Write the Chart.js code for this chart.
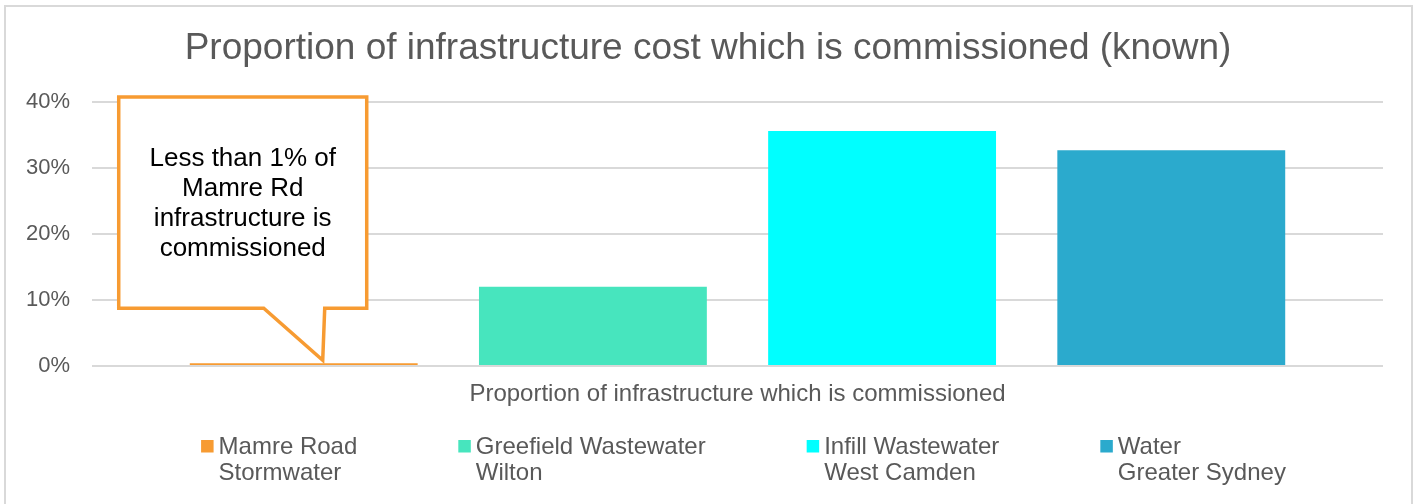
<!DOCTYPE html>
<html>
<head>
<meta charset="utf-8">
<script src="https://cdn.jsdelivr.net/npm/chart.js@4"></script>
<style>
  html, body { margin: 0; padding: 0; background: #fff; overflow: hidden; }
  #wrap { position: relative; width: 1416px; height: 504px; }
  #frame { position: absolute; left: 4px; top: 5px; width: 1409px; height: 600px; box-sizing: border-box; border: 2px solid #d9d9d9; pointer-events: none; }
  canvas { display: block; }
</style>
</head>
<body>
<div id="wrap">
  <canvas id="chart" width="1416" height="504"></canvas>
  <div id="frame"></div>
</div>
<script>
let titleText = "Proportion of infrastructure cost which is commissioned (known)";
let categories = ["Proportion of infrastructure which is commissioned"];
let seriesNames = [
  ["Mamre Road", "Stormwater"],
  ["Greefield Wastewater", "Wilton"],
  ["Infill Wastewater", "West Camden"],
  ["Water", "Greater Sydney"]
];
let seriesValues = [0.4, 12.0, 35.6, 32.7];
let seriesColors = ["#f79b32", "#47e5be", "#00ffff", "#2baacd"];
let yMax = 40;
let yStep = 10;
let calloutLines = ["Less than 1% of", "Mamre Rd", "infrastructure is", "commissioned"];

let fontFamily = "'Liberation Sans', Arial, sans-serif";
let grey = "#595959";

// Title drawn centred on the whole canvas
let titlePlugin = {
  id: "pageTitle",
  afterDraw(chart) {
    let c = chart.ctx;
    c.save();
    c.font = "37px " + fontFamily;
    c.fillStyle = grey;
    c.textAlign = "center";
    c.textBaseline = "alphabetic";
    c.fillText(titleText, chart.width / 2, 59);
    c.restore();
  }
};

// Callout box pointing at the first bar
let calloutPlugin = {
  id: "callout",
  afterDatasetsDraw(chart) {
    let bar = chart.getDatasetMeta(0).data[0];
    let y = chart.scales.y;
    let c = chart.ctx;
    let tipX = bar.x + 19;
    let tipY = bar.y - 3;
    let left = bar.x - 185;
    let right = bar.x + 63;
    let top = y.getPixelForValue(yMax) - 5;
    let bottom = y.getPixelForValue(8.75);

    c.save();
    c.beginPath();
    c.moveTo(left, top);
    c.lineTo(right, top);
    c.lineTo(right, bottom);
    c.lineTo(bar.x + 21, bottom);
    c.lineTo(tipX, tipY);
    c.lineTo(bar.x - 40, bottom);
    c.lineTo(left, bottom);
    c.closePath();
    c.fillStyle = "#fff";
    c.fill();
    c.lineWidth = 3.5;
    c.lineJoin = "miter";
    c.strokeStyle = seriesColors[0];
    c.stroke();

    c.fillStyle = "#000";
    c.font = "26px " + fontFamily;
    c.textAlign = "center";
    c.textBaseline = "alphabetic";
    let cx = (left + right) / 2;
    for (let i = 0; i < calloutLines.length; i++) {
      c.fillText(calloutLines[i], cx, top + 69 + i * 30);
    }
    c.restore();
  }
};

// Legend with two-line labels
let legendPlugin = {
  id: "twoLineLegend",
  afterDraw(chart) {
    let c = chart.ctx;
    c.save();
    c.font = "24px " + fontFamily;
    c.textBaseline = "alphabetic";
    c.textAlign = "left";
    let box = 12.5;
    let gap = 101;
    let widths = chart.data.datasets.map(ds => {
      let w = Math.max(...ds.label.map(t => c.measureText(t).width));
      return box + 5 + w;
    });
    let total = widths.reduce((a, b) => a + b, 0) + gap * (widths.length - 1);
    let x = (chart.chartArea.left + chart.chartArea.right) / 2 + 6 - total / 2;
    let base = 454;
    chart.data.datasets.forEach((ds, i) => {
      c.fillStyle = ds.backgroundColor;
      c.fillRect(x, 440, box, box);
      c.fillStyle = grey;
      ds.label.forEach((t, j) => c.fillText(t, x + box + 5, base + j * 26));
      x += widths[i] + gap;
    });
    c.restore();
  }
};

let ctx = document.getElementById("chart").getContext("2d");
let chart = new Chart(ctx, {
  type: "bar",
  data: {
    labels: categories,
    datasets: seriesNames.map((name, i) => ({
      label: name,
      data: [seriesValues[i]],
      backgroundColor: seriesColors[i],
      borderWidth: 0,
      categoryPercentage: 0.896,
      barPercentage: 0.788
    }))
  },
  options: {
    responsive: false,
    animation: false,
    layout: { padding: { left: 8, right: 33, top: 102, bottom: 0 } },
    plugins: {
      legend: { display: false },
      tooltip: { enabled: false },
      title: { display: false }
    },
    scales: {
      x: {
        grid: { display: false, drawTicks: false },
        border: { display: false },
        ticks: { color: grey, font: { family: fontFamily, size: 24 }, padding: 14 },
        afterFit(s) { s.height = 138; }
      },
      y: {
        min: 0,
        max: yMax,
        grid: { color: "#d9d9d9", lineWidth: 2, drawTicks: false },
        border: { display: false },
        ticks: {
          stepSize: yStep,
          color: grey,
          font: { family: fontFamily, size: 22 },
          padding: 22,
          callback: v => v + "%"
        },
        afterFit(s) { s.width = 84; }
      }
    }
  },
  plugins: [calloutPlugin, legendPlugin, titlePlugin]
});
</script>
</body>
</html>
